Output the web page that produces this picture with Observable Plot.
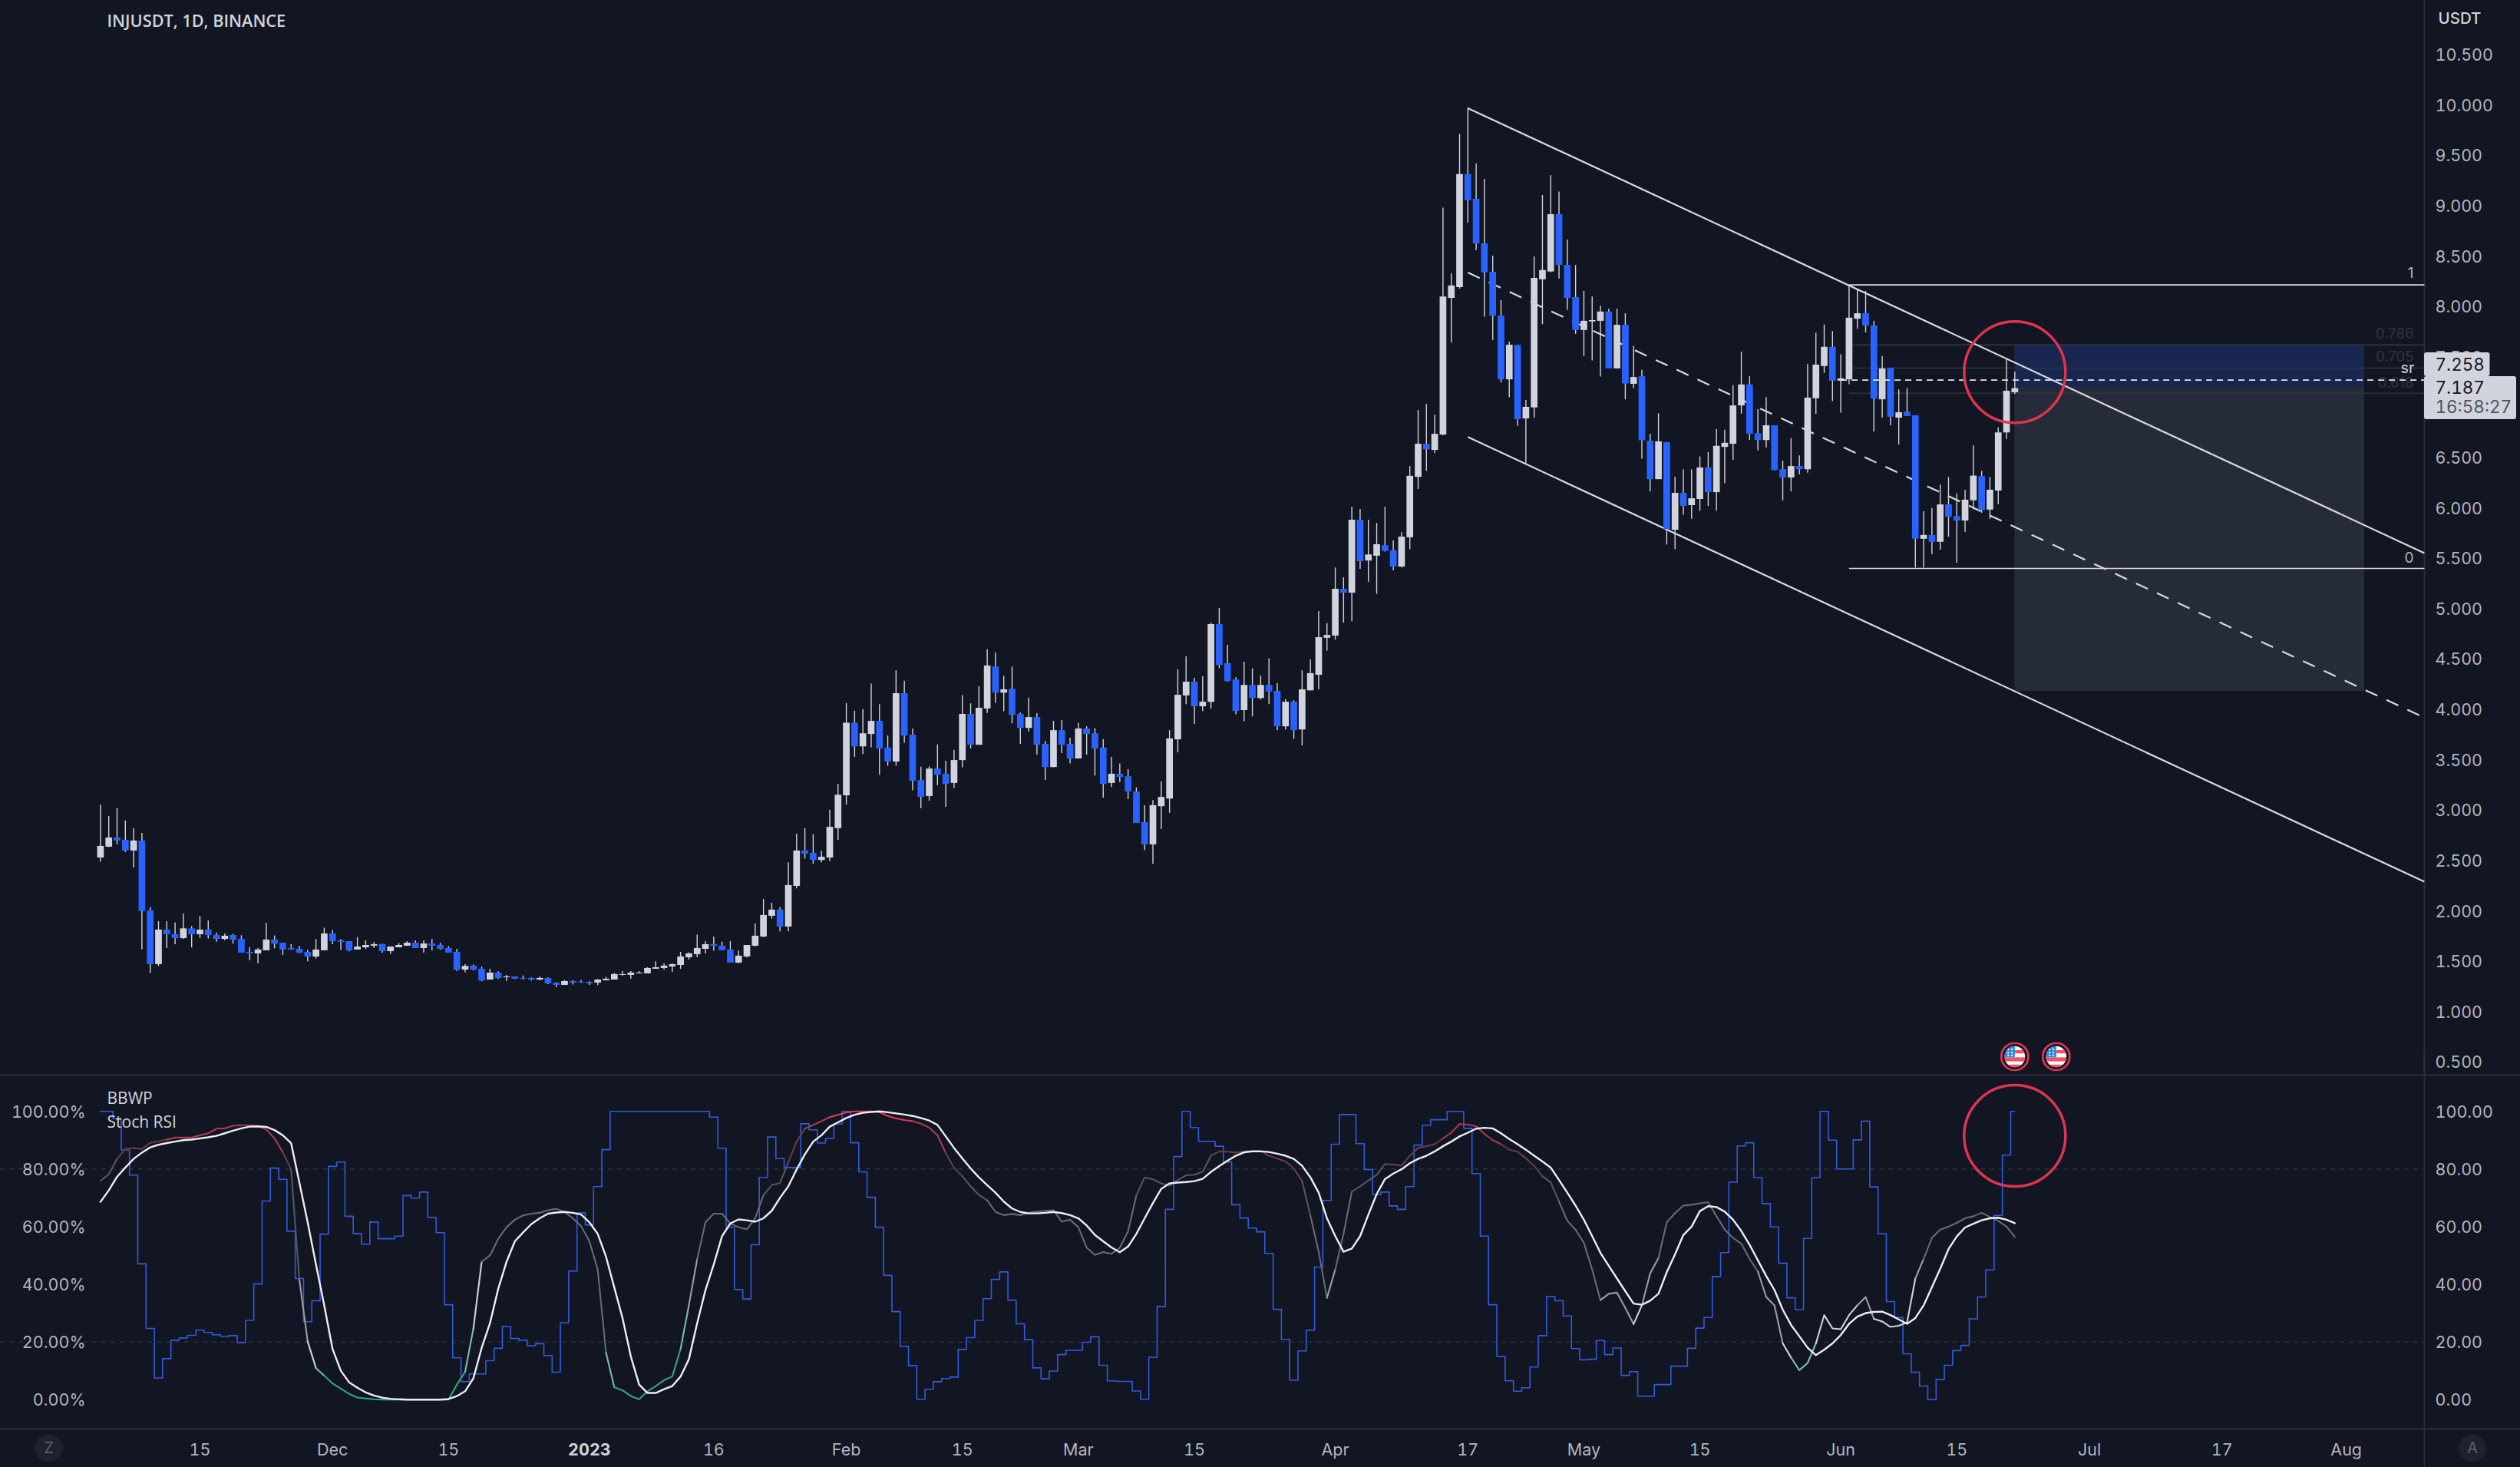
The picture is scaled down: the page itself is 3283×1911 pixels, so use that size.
<!DOCTYPE html>
<html><head><meta charset="utf-8">
<style>html,body{margin:0;padding:0;background:#121623;overflow:hidden}svg{display:block}</style>
<script src="https://cdn.jsdelivr.net/npm/d3@7"></script>
<script src="https://cdn.jsdelivr.net/npm/@observablehq/plot@0.6"></script>
</head><body><div id="chart"></div>
<script>
const title = "INJUSDT, 1D, BINANCE";
const firstDay = new Date(Date.UTC(2022, 10, 3));
const opens = [2.527,2.634,2.725,2.703,2.596,2.695,2.001,1.468,1.811,1.765,
1.727,1.823,1.765,1.811,1.757,1.719,1.757,1.719,1.59,1.575,
1.605,1.712,1.681,1.628,1.62,1.59,1.544,1.605,1.773,1.704,
1.696,1.613,1.635,1.651,1.666,1.597,1.635,1.651,1.681,1.628,
1.673,1.658,1.628,1.59,1.414,1.453,1.422,1.315,1.384,1.338,
1.346,1.331,1.331,1.315,1.331,1.285,1.262,1.3,1.293,1.293,
1.285,1.308,1.315,1.361,1.361,1.376,1.376,1.422,1.43,1.445,
1.46,1.536,1.567,1.62,1.666,1.651,1.613,1.483,1.544,1.651,
1.742,1.948,2.009,1.841,2.245,2.596,2.573,2.502,2.527,2.818,
3.144,3.864,3.63,3.753,3.883,3.618,3.479,4.158,3.747,3.295,
3.137,3.409,3.358,3.267,3.494,3.952,3.646,4.006,4.423,4.164,
4.202,3.952,3.813,3.921,3.655,3.425,3.791,3.655,3.51,3.807,
3.76,3.618,3.267,3.358,3.333,3.182,2.878,2.657,3.036,3.112,
3.7,4.136,4.272,4.028,4.073,4.843,4.455,4.294,3.99,4.24,
4.11,4.24,4.18,3.829,4.073,3.798,4.186,4.341,4.708,4.73,
5.194,5.156,5.88,5.475,5.523,5.627,5.577,5.415,5.706,6.306,
6.634,6.573,6.726,8.083,8.189,9.312,9.067,8.624,8.342,7.906,
7.274,7.617,6.886,6.995,8.267,8.345,8.914,8.41,8.09,7.764,
7.849,7.855,7.947,7.382,7.815,7.229,7.304,6.665,6.283,6.651,
5.78,6.147,6.025,6.086,6.399,6.154,6.603,6.634,7.015,7.223,
6.739,6.671,6.818,6.382,6.3,6.413,6.382,7.086,7.406,7.597,
7.26,7.274,7.876,7.93,7.808,7.076,7.389,6.893,6.954,6.916,
5.691,5.729,5.661,6.032,5.916,5.872,6.073,6.314,5.981,6.17,
6.747,7.146];
const closes = [2.642,2.725,2.695,2.596,2.695,1.996,1.468,1.811,1.765,1.727,
1.823,1.765,1.811,1.757,1.719,1.75,1.712,1.582,1.575,1.613,
1.712,1.671,1.613,1.613,1.582,1.544,1.613,1.773,1.696,1.689,
1.605,1.643,1.658,1.666,1.597,1.643,1.658,1.681,1.628,1.673,
1.651,1.62,1.582,1.412,1.45,1.414,1.305,1.384,1.331,1.346,
1.323,1.323,1.315,1.331,1.277,1.262,1.3,1.285,1.285,1.277,
1.315,1.323,1.369,1.369,1.384,1.384,1.43,1.437,1.453,1.468,
1.544,1.575,1.628,1.666,1.651,1.605,1.483,1.552,1.658,1.75,
1.956,2.009,1.841,2.253,2.596,2.565,2.504,2.534,2.831,3.15,
3.864,3.63,3.76,3.883,3.608,3.479,4.158,3.738,3.289,3.128,
3.409,3.349,3.257,3.494,3.952,3.646,4.013,4.433,4.164,4.196,
3.943,3.813,3.921,3.646,3.425,3.791,3.646,3.51,3.807,3.753,
3.608,3.257,3.358,3.327,3.182,2.869,2.657,3.046,3.128,3.709,
4.142,4.272,4.028,4.073,4.843,4.439,4.278,3.981,4.24,4.11,
4.24,4.174,3.829,4.073,3.791,4.196,4.357,4.714,4.736,5.194,
5.156,5.88,5.469,5.535,5.637,5.57,5.415,5.712,6.316,6.635,
6.579,6.733,8.097,8.206,9.312,9.053,8.624,8.335,7.906,7.274,
7.617,6.879,7.001,8.281,8.359,8.914,8.41,8.083,7.764,7.855,
7.862,7.947,7.382,7.815,7.233,7.297,6.668,6.283,6.658,5.787,
6.147,6.018,6.093,6.399,6.154,6.614,6.644,7.015,7.223,6.733,
6.671,6.818,6.372,6.3,6.413,6.382,7.093,7.42,7.597,7.26,
7.284,7.886,7.93,7.808,7.083,7.382,6.903,6.947,6.91,5.691,
5.729,5.661,6.032,5.909,5.872,6.079,6.318,5.977,6.178,6.747,
7.161,7.186];
const highs = [3.051,2.939,3.018,2.893,2.817,2.771,2.034,1.895,1.895,1.882,
1.971,1.844,1.945,1.902,1.78,1.773,1.768,1.755,1.635,1.628,
1.877,1.752,1.681,1.666,1.648,1.61,1.719,1.831,1.806,1.717,
1.696,1.737,1.704,1.686,1.671,1.643,1.679,1.696,1.704,1.704,
1.717,1.679,1.646,1.62,1.468,1.463,1.442,1.422,1.397,1.361,
1.346,1.356,1.336,1.346,1.336,1.29,1.31,1.31,1.31,1.298,
1.32,1.341,1.379,1.399,1.399,1.399,1.437,1.496,1.476,1.476,
1.59,1.585,1.76,1.696,1.742,1.691,1.696,1.602,1.658,1.874,
2.116,2.078,2.034,2.479,2.763,2.817,2.758,2.594,3.001,3.257,
4.06,3.984,4.0,4.253,4.05,3.738,4.385,4.281,3.807,3.428,
3.431,3.649,3.488,3.595,4.139,4.057,4.227,4.594,4.562,4.332,
4.423,3.965,4.114,3.959,3.684,3.883,3.892,3.716,3.864,3.829,
3.813,3.7,3.526,3.46,3.403,3.223,3.046,3.096,3.283,3.791,
4.395,4.524,4.31,4.325,4.859,5.005,4.638,4.316,4.471,4.404,
4.332,4.505,4.256,4.101,4.088,4.385,4.493,4.973,4.853,5.406,
5.308,6.009,5.987,5.88,5.848,6.009,5.674,5.757,6.414,6.97,
7.029,6.923,8.978,8.328,9.71,9.972,9.417,9.264,8.502,8.06,
7.648,7.617,7.069,8.492,9.104,9.301,9.138,8.662,8.41,8.151,
8.097,8.005,7.975,7.975,7.93,7.607,7.369,6.733,6.937,6.651,
6.307,6.379,6.379,6.508,6.552,6.78,6.773,7.216,7.549,7.304,
6.978,7.097,6.818,6.467,6.688,6.518,7.427,7.736,7.818,7.753,
7.522,8.213,8.175,8.151,7.855,7.505,7.389,7.175,7.185,6.916,
5.964,5.998,6.229,6.304,6.141,6.178,6.617,6.365,6.304,6.797,
7.476,7.349];
const lows = [2.484,2.629,2.657,2.581,2.428,1.615,1.381,1.45,1.628,1.666,
1.717,1.635,1.729,1.722,1.691,1.704,1.671,1.582,1.506,1.475,
1.605,1.625,1.559,1.61,1.577,1.496,1.524,1.605,1.666,1.61,
1.595,1.613,1.62,1.628,1.582,1.57,1.635,1.651,1.628,1.582,
1.602,1.61,1.582,1.399,1.387,1.407,1.298,1.315,1.323,1.3,
1.32,1.315,1.305,1.308,1.27,1.239,1.26,1.265,1.285,1.262,
1.26,1.305,1.315,1.356,1.323,1.376,1.376,1.422,1.414,1.392,
1.422,1.514,1.536,1.575,1.6,1.605,1.483,1.475,1.534,1.643,
1.735,1.92,1.793,1.793,2.22,2.517,2.466,2.48,2.49,2.701,
3.052,3.526,3.554,3.621,3.349,3.437,3.437,3.665,3.194,3.017,
3.09,3.245,3.03,3.216,3.422,3.608,3.646,3.962,4.063,3.978,
3.858,3.655,3.776,3.548,3.295,3.422,3.564,3.46,3.51,3.548,
3.34,3.122,3.226,3.273,3.106,2.869,2.6,2.464,2.809,2.97,
3.57,4.05,3.851,3.981,4.006,4.407,4.272,3.949,3.88,3.927,
4.095,4.05,3.791,3.798,3.706,3.64,4.186,4.196,4.581,4.689,
4.859,4.872,5.393,5.264,5.144,5.564,5.377,5.406,5.589,6.186,
6.365,6.542,6.719,7.638,8.175,8.829,8.556,7.896,7.665,7.243,
7.097,6.814,6.433,6.893,7.821,8.339,8.274,7.964,7.726,7.505,
7.461,7.301,7.382,7.382,7.076,7.185,6.484,6.161,6.283,5.634,
5.589,5.93,5.889,5.97,6.018,5.97,6.243,6.474,6.933,6.671,
6.569,6.597,6.372,6.073,6.161,6.331,6.348,6.933,7.338,7.059,
6.944,7.226,7.777,7.74,6.756,6.893,6.818,6.627,6.91,5.406,
5.406,5.538,5.583,5.712,5.453,5.76,5.984,5.95,5.889,6.035,
6.683,7.128];
const bbwp = [100,100,97.5,86.6,77.9,47.1,24.7,7.5,14.2,20.6,
21.4,22.3,24.1,23.3,22.5,21.9,22.2,19.8,27.5,40.1,
68.9,80.3,76.4,58.4,42,27,34.3,57.4,80.9,82.4,
63.6,57.6,53.9,61.6,55.8,55.8,56.7,70.8,69.9,72,
63.2,57.9,32.9,14.5,6.2,8.9,8.9,13.5,17.8,25.4,
21.2,20.6,18.7,19.4,15.3,9.5,26.7,44.6,64.8,60.6,
73.9,86.7,100,100,100,100,100,100,100,100,
100,100,100,100,98,87.2,59.8,38.2,34.9,53.7,
77.1,91.1,83.6,80.5,80.5,95.7,93.6,89,90.6,95.6,
100,89.1,79,70.2,59.8,43.1,30.5,18.5,11.8,0.1,
3.6,6.2,7.3,7.8,17.4,21.5,27.5,35,41.7,44.3,
34.5,26.3,20.8,11,7.2,9.9,15.6,17.1,17.1,19.9,
21.8,11.9,6.5,6.3,6.3,3,0.1,14.7,32.3,66,
84.3,100,94.4,89.6,89.6,87.9,82.4,67.6,63,59.5,
58.2,50.7,31.3,20.9,6.7,16.9,24.1,46,69.1,88.6,
98.9,98.9,88.8,79.8,71.1,72,67.2,66,73.9,88.3,
95.2,97.1,97.1,100,100,94.1,78.4,56.7,32.9,15,
6.5,2.9,4.1,11.3,22.2,35.8,34.3,29,17.7,13.8,
14,20.5,15.6,17.9,8.4,9.7,1.2,1.2,5.2,5.2,
11.6,11.6,17.8,24.8,28.5,42.7,51,75.4,88,89.1,
77,68,59.9,47.3,35.3,31.2,55.9,77,100,90,
80,80,90.1,96.6,73.8,57.5,34,28.5,15.9,9.5,
4.7,0,7,11.9,17,18.8,28,35.6,45,63.9,
84.8,100];
const stochK = [75.9,78.2,83.5,86.9,87.3,86.9,89.1,89.6,90.2,90.9,
90.9,90.9,91.7,92.4,94,94.1,95,95.2,95.2,94.9,
93.7,90.6,85.8,79.8,41.6,20.2,10.9,8.3,5.6,3.8,
2,0.7,0.4,0.1,0,0,0,0,0,0,
0,0,0,5.2,9.6,24.7,47.8,50,55.8,59.8,
62.4,63.9,64.5,64.8,65.7,66.2,65.1,62.9,60.2,54.9,
45.1,16.3,4.3,3.2,1.2,0.1,2.9,4.7,6.7,8,
17.6,32.7,48.7,61.5,64.5,64.5,61.1,59.8,59.1,62.9,
70.9,74.4,75.1,82.4,89.5,94,95.3,96.6,98,98.8,
99.6,100,100,100,99.7,98.4,97.5,97,96.6,95.7,
94.4,91.7,85.5,80.4,77.5,74,71,69.1,65.1,64,
64.4,64,64.8,65.2,65.5,65.7,61.7,62.4,59.8,52.7,
50.2,51.2,50.6,52.7,58.4,70.9,77.1,76.4,75,74.2,
76.2,77.8,78,79,84.6,86.1,86,85.7,86,86.3,
86.3,84.6,83.6,82.6,80.2,75.8,63.8,51.3,35.3,45.1,
57.5,72.2,74,76,78,81.7,81.5,81.2,84.6,87.3,
87.9,88.6,90.6,92.6,95.6,95.4,94.8,92.2,90,88.6,
86.7,86,83.7,81.1,77.5,75.3,68.7,62,58.9,54.4,
45.1,34.5,36.7,37.1,31.8,26.2,32.7,43.8,49.1,61.5,
64.7,67.3,67.6,68.1,68.5,63.6,59,56.1,54.1,48.8,
44.4,35.6,32.7,19.5,14.6,10.2,12.7,19.5,29.3,24.7,
24.4,29.3,32.7,35.6,28,27.1,25.2,25.6,26.8,42,
48.8,56.1,59,60,61.3,62.9,63.6,64.8,63.4,62,
60,56.4];
const stochD = [68.6,72.6,77.3,80.5,83.5,85.7,87.5,88.4,89,89.5,
90,90.2,90.6,91,91.5,92.4,93.3,94.1,94.7,94.8,
94.6,93.5,91.7,89,75.3,61.5,46.9,32.7,17.6,10,
6,4.1,2.5,1.4,0.7,0.3,0.1,0,0,0,
0,0,0.2,1.2,2.9,7.4,18,26.5,38.5,47.8,
54.9,58,60.9,62.9,64.5,64.9,65.1,64.8,64.2,61.5,
57.5,49.6,38.9,28.2,14.9,5.2,2.3,2.3,3.6,4.7,
8,14,26.5,38,46.9,56.7,61.1,62.5,62.2,61.7,
62.9,65.5,70,74,79.8,85.1,89.5,91.7,94.7,96.2,
97.7,98.8,99.5,99.8,100,99.7,99.3,98.9,98.4,97.7,
96.8,95.3,91.3,87.3,83.7,80.2,77.1,74.4,71.8,68.7,
66.3,65.1,64.6,64.6,64.8,65.1,64.7,64,62.9,60.4,
57.1,54.9,52.8,51.1,53.1,57.5,62.9,68.2,73.1,75,
75.3,75.5,75.8,76.6,79,81,82.9,84.6,85.8,86.1,
86.1,85.9,85.3,84.6,83.5,81.1,77.1,71.8,62.9,56.7,
51.3,52.4,56.7,64.2,71.3,76.5,78.4,79.9,82,83.5,
84.6,86.1,87.9,89.5,91.3,92.6,94,94.3,94.1,92.4,
90.4,88.6,86.7,84.6,82.6,80.5,76.2,71.8,67.3,62.4,
56.7,50.9,46.4,42,37.6,33.3,32.9,34.3,36.7,44.2,
50.4,57.1,60,65.4,67.1,66.8,65.2,62.4,58.5,53.7,
48.3,42.9,38,31.2,25.9,22,18,15.4,17.3,19.5,
22.4,26.3,28.8,30,30.4,30.5,29.3,27.8,26.3,28.3,
32.7,39,45.4,52.2,56.6,59.7,61,62.2,62.9,63.1,
62.4,61.2];
const priceTicks = d3.range(0.5, 10.51, 0.5);
const pctTicks = [0, 20, 40, 60, 80, 100];
const dateTickLabels = [["2022-11-15","15"],["2022-12-01","Dec"],["2022-12-15","15"],["2023-01-16","16"],["2023-02-01","Feb"],["2023-02-15","15"],["2023-03-01","Mar"],["2023-03-15","15"],["2023-04-01","Apr"],["2023-04-17","17"],["2023-05-01","May"],["2023-05-15","15"],["2023-06-01","Jun"],["2023-06-15","15"],["2023-07-01","Jul"],["2023-07-17","17"],["2023-08-01","Aug"]];
const yearTick = [["2023-01-01","2023"]];
const channelStart = "2023-04-17", channelEnd = "2023-08-10T10:00Z";
const channelUpper = [9.97, 5.553], channelMiddle = [8.338, 3.92], channelLower = [6.705, 2.29];
const fibStart = "2023-06-02";
const fibLevels = [{level:"1",p:8.215,labelP:8.329,strong:true},{level:"0.786",p:7.62,labelP:7.725},{level:"0.705",p:7.39,labelP:7.496},{level:"0.618",p:7.14,labelP:7.238},{level:"0",p:5.40,labelP:5.507,strong:true}];
const srLevel = 7.27, srLabelP = 7.387;
const srStart = "2023-06-01";
const positionX = ["2023-06-22","2023-08-03T05:00Z"];
const positionZones = [{top:7.62,bottom:7.2,fill:"#182750"},{top:7.2,bottom:4.18,fill:"#252b39"}];
const lastPrice = 7.187, highlightPrice = 7.258, countdown = "16:58:27";
const eventDays = ["2023-06-22","2023-06-27"];

const candles = opens.map((o,i)=>({date:d3.utcDay.offset(firstDay,i),o,c:closes[i],h:highs[i],l:lows[i],i}));
const up="#d1d4dc", down="#2962ff", textC="#b2b5be", bg="#121623", sep="#2a2e39";
const font="Inter, 'Noto Sans', sans-serif";
const labelFont="'Open Sans', 'Noto Sans', sans-serif";
const xDomain=[new Date("2022-10-21T22:05Z"), new Date("2023-08-10T10:20Z")];
const edge=xDomain[1];
const flagSvg=`<svg xmlns='http://www.w3.org/2000/svg' viewBox='0 0 40 44'><ellipse cx='20' cy='22' rx='18.5' ry='20.5' fill='#121623' stroke='#e0344e' stroke-width='3'/><clipPath id='c'><ellipse cx='20' cy='22' rx='14' ry='16'/></clipPath><g clip-path='url(#c)'><rect width='40' height='44' fill='#f8f9fd'/><rect y='12' x='20' width='20' height='5' fill='#f0525f'/><rect y='23' width='40' height='6' fill='#f0525f'/><rect y='34' width='40' height='6' fill='#f0525f'/><rect width='20' height='23' fill='#2e86e8'/><g fill='#fff'><circle cx='11' cy='11' r='1.3'/><circle cx='16' cy='11' r='1.3'/><circle cx='11' cy='16' r='1.3'/><circle cx='16' cy='16' r='1.3'/><circle cx='16' cy='20' r='1.3'/><circle cx='11' cy='20' r='1.3'/></g></g></svg>`;
const flagSrc="data:image/svg+xml,"+encodeURIComponent(flagSvg);
const channelLink=(rows,extra)=>Plot.link(rows,{x1:()=>new Date(channelStart),x2:()=>new Date(channelEnd),y1:d=>d[0],y2:d=>d[1],stroke:"#d8dae0",strokeWidth:2.2,...extra});

const price = Plot.plot({
  width:3283,height:1400,margin:0,marginRight:125,
  style:{background:bg,fontFamily:font,overflow:"visible"},
  x:{type:"utc",domain:xDomain,axis:null},
  y:{domain:[0.37,11.04],range:[1400,0]},
  marks:[
    Plot.rect(positionZones,{x1:()=>new Date(positionX[0]),x2:()=>new Date(positionX[1]),y1:"bottom",y2:"top",fill:"fill"}),
    Plot.ruleX([edge],{stroke:sep,strokeWidth:2}),
    Plot.axisY({anchor:"right",ticks:priceTicks,tickSize:0,tickPadding:14,tickFormat:d=>d.toFixed(3),fontSize:21.5,fill:textC,dy:1}),
    Plot.link(fibLevels,{x1:()=>new Date(fibStart),x2:()=>edge,y1:"p",y2:"p",stroke:d=>d.strong?"#d8dae0":"#343844",strokeWidth:d=>d.strong?1.6:1.3}),
    Plot.text(fibLevels.filter(d=>d.strong),{x:()=>edge,y:"labelP",text:"level",dx:-14,textAnchor:"end",fontSize:19,fill:textC}),
    Plot.text(fibLevels.filter(d=>!d.strong),{x:()=>edge,y:"labelP",text:"level",dx:-14,textAnchor:"end",fontSize:18.5,fill:"#2f3340"}),
    channelLink([channelUpper,channelLower],{}),
    channelLink([channelMiddle],{strokeDasharray:"17 13"}),
    Plot.ruleX(candles,{x:"date",y1:"l",y2:"h",stroke:up,strokeWidth:1.4}),
    Plot.ruleX(candles,{x:"date",y1:"o",y2:"c",stroke:d=>d.c>=d.o?up:down,strokeWidth:8.7}),
    Plot.link([srLevel],{x1:()=>new Date(srStart),x2:()=>edge,y1:d=>d,y2:d=>d,stroke:"#e6e7ec",strokeWidth:1.6,strokeDasharray:"8 6"}),
    Plot.text(["sr"],{x:()=>edge,y:()=>srLabelP,dx:-13,textAnchor:"end",fontSize:20,fill:"#d1d4dc"}),
    Plot.dot([7.349],{x:()=>new Date(positionX[0]),y:d=>d,r:66,stroke:"#e0344e",strokeWidth:3.5,fill:"none"}),
    Plot.image(eventDays,{x:d=>new Date(d),y:()=>0.553,src:()=>flagSrc,width:38,height:38,preserveAspectRatio:"none"}),
    Plot.rect([0],{x1:()=>edge,x2:()=>edge,y1:()=>7.306,y2:()=>7.542,insetRight:-85.5,fill:up,rx:3}),
    Plot.rect([0],{x1:()=>edge,x2:()=>edge,y1:()=>6.879,y2:()=>7.306,insetRight:-120,fill:up,rx:3}),
    Plot.text([highlightPrice],{x:()=>edge,y:()=>7.42,dx:14,text:d=>d.toFixed(3),textAnchor:"start",fontSize:22.5,fontVariant:"tabular-nums",fill:"#131722"}),
    Plot.text([lastPrice],{x:()=>edge,y:()=>7.186,dx:14,text:d=>d.toFixed(3),textAnchor:"start",fontSize:22.5,fontVariant:"tabular-nums",fill:"#131722"}),
    Plot.text([countdown],{x:()=>edge,y:()=>7.0,dx:14,textAnchor:"start",fontSize:22.5,fontVariant:"tabular-nums",fill:"#4f5360"}),
    Plot.text([title],{frameAnchor:"top-left",dx:139,dy:28,textAnchor:"start",lineAnchor:"middle",fontFamily:labelFont,fontSize:21.7,fontWeight:600,fill:"#d1d4dc"}),
    Plot.text(["USDT"],{frameAnchor:"top-right",dx:18,dy:24,textAnchor:"start",lineAnchor:"middle",fontSize:20.5,fontWeight:500,fill:"#d1d4dc"})
  ]
});

function kColor(v){
  if(v>=97) return "#e8364f";
  if(v>=90) return "#a93c4d";
  if(v>=80) return "#693a47";
  if(v>=70) return "#55575f";
  if(v>=45) return "#676a72";
  if(v>=30) return "#9a9da5";
  if(v>=18) return "#d0d3da";
  if(v>=9) return "#79bdae";
  return "#2fa583";
}
const pts=d3.range(candles.length);
const legendText=(t,dy)=>Plot.text([t],{frameAnchor:"top-left",dx:139,dy,fontFamily:labelFont,fontSize:21,textAnchor:"start",lineAnchor:"middle",fill:"#d1d4dc"});
const indicator = Plot.plot({
  width:3283,height:511,margin:0,marginRight:125,marginBottom:50,
  style:{background:bg,fontFamily:font,overflow:"visible"},
  x:{type:"utc",domain:xDomain,axis:null},
  y:{domain:[-10.2,112.57],range:[461,0]},
  marks:[
    Plot.ruleY([20,80],{stroke:"#2e3240",strokeDasharray:"6 6",strokeWidth:1.4}),
    Plot.ruleX([edge],{y1:-30,y2:120,stroke:sep,strokeWidth:2}),
    Plot.ruleY([112.57,-10.2],{stroke:sep,strokeWidth:2,insetRight:-125}),
    Plot.axisY({anchor:"right",ticks:pctTicks,tickSize:0,tickPadding:14,tickFormat:d=>d.toFixed(2),fontSize:21.5,fill:textC,dy:1}),
    Plot.text(pctTicks,{frameAnchor:"left",dx:111,dy:1,y:d=>d,text:d=>d.toFixed(2)+"%",textAnchor:"end",fontSize:21.5,fontVariant:"tabular-nums",fill:textC}),
    Plot.axisX({anchor:"bottom",ticks:dateTickLabels.map(d=>new Date(d[0])),tickSize:0,tickPadding:19,label:null,fontSize:21.5,fill:textC,tickFormat:d=>dateTickLabels.find(t=>+new Date(t[0])===+d)[1]}),
    Plot.axisX({anchor:"bottom",ticks:yearTick.map(d=>new Date(d[0])),tickSize:0,tickPadding:19,label:null,fontSize:21.5,fontWeight:700,fill:"#d1d4dc",tickFormat:()=>yearTick[0][1]}),
    Plot.line(pts,{x:i=>candles[i].date,y:i=>bbwp[i],curve:"step",stroke:"#2f5cdc",strokeWidth:1.6}),
    Plot.line(pts,{x:i=>candles[i].date,y:i=>stochK[i],z:null,stroke:i=>kColor(stochK[i]),strokeWidth:2.1}),
    Plot.line(pts,{x:i=>candles[i].date,y:i=>stochD[i],stroke:"#eceef2",strokeWidth:2.4}),
    Plot.dot([91.5],{x:()=>new Date(positionX[0]),y:d=>d,r:66,stroke:"#e0344e",strokeWidth:3.5,fill:"none"}),
    legendText("BBWP",31),
    legendText("Stoch RSI",62),
    Plot.dot([0],{frameAnchor:"bottom-left",dx:63,dy:25,r:18,fill:"#1e222d"}),
    Plot.text(["Z"],{frameAnchor:"bottom-left",dx:63,dy:25,textAnchor:"middle",lineAnchor:"middle",fontSize:20,fill:"#5d606b"}),
    Plot.dot([0],{frameAnchor:"bottom-right",dx:62.7,dy:25,r:18,fill:"#1e222d"}),
    Plot.text(["A"],{frameAnchor:"bottom-right",dx:62.7,dy:25,textAnchor:"middle",lineAnchor:"middle",fontSize:20,fill:"#5d606b"})
  ]
});
document.getElementById("chart").append(price,indicator);
</script></body></html>
